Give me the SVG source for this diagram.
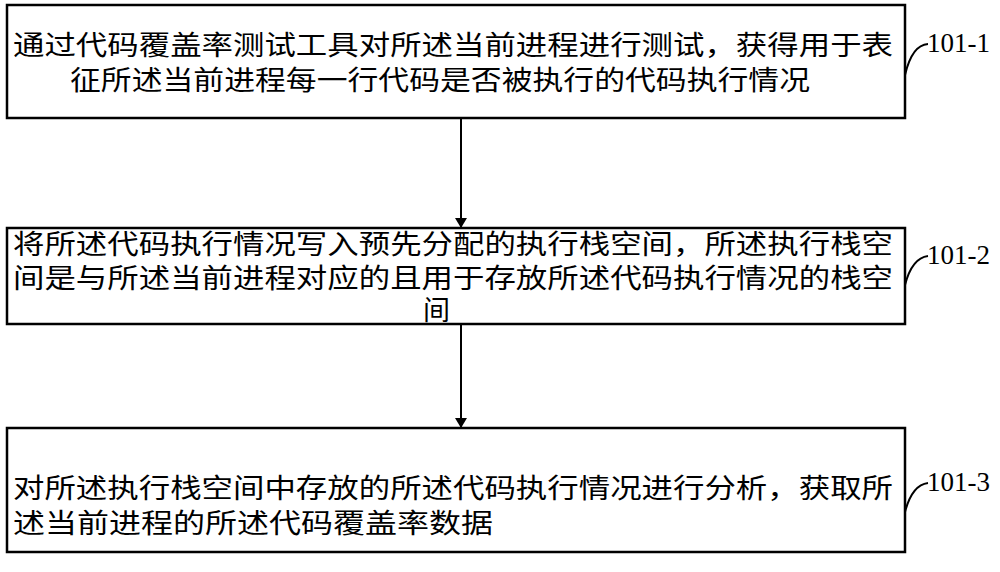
<svg xmlns="http://www.w3.org/2000/svg" width="1000" height="572" viewBox="0 0 1000 572">
<style>
.b{fill:#fff;stroke:#000;stroke-width:2.5}
.t{font-family:"Liberation Serif","Noto Sans CJK SC",serif;font-size:27px;fill:#000}
.l{font-family:"Liberation Serif",serif;font-size:27px;fill:#000}
.c{fill:none;stroke:#000;stroke-width:2}
</style>
<defs><marker id="a" markerWidth="10" markerHeight="12" refX="9" refY="6" orient="auto" markerUnits="userSpaceOnUse"><path d="M0,0L10,6L0,12z"/></marker></defs>
<rect width="1000" height="572" fill="#fff"/>
<g id="n1"><rect class="b" x="7" y="5" width="898" height="113"/>
<text class="t" x="13" y="55" textLength="880" lengthAdjust="spacingAndGlyphs">通过代码覆盖率测试工具对所述当前进程进行测试，获得用于表</text>
<text class="t" x="70" y="90" textLength="740" lengthAdjust="spacingAndGlyphs">征所述当前进程每一行代码是否被执行的代码执行情况</text>
<path class="c" d="M905,75 Q912,45 928,44"/><text class="l" x="927" y="52">101-1</text></g>
<g id="n2"><rect class="b" x="7" y="228" width="898" height="96"/>
<text class="t" x="13" y="254" textLength="880" lengthAdjust="spacingAndGlyphs">将所述代码执行情况写入预先分配的执行栈空间，所述执行栈空</text>
<text class="t" x="13" y="288" textLength="880" lengthAdjust="spacingAndGlyphs">间是与所述当前进程对应的且用于存放所述代码执行情况的栈空</text>
<text class="t" x="423" y="320">间</text>
<path class="c" d="M905,285 Q912,258 928,256"/><text class="l" x="927" y="264">101-2</text></g>
<g id="n3"><rect class="b" x="7" y="428" width="898" height="124"/>
<text class="t" x="13" y="498" textLength="880" lengthAdjust="spacingAndGlyphs">对所述执行栈空间中存放的所述代码执行情况进行分析，获取所</text>
<text class="t" x="13" y="533" textLength="480" lengthAdjust="spacingAndGlyphs">述当前进程的所述代码覆盖率数据</text>
<path class="c" d="M905,512 Q912,485 928,483"/><text class="l" x="927" y="491">101-3</text></g>
<g id="edges">
<line class="c" x1="461" y1="118" x2="461" y2="227" marker-end="url(#a)"/>
<line class="c" x1="461" y1="324" x2="461" y2="427" marker-end="url(#a)"/>
</g>
</svg>
